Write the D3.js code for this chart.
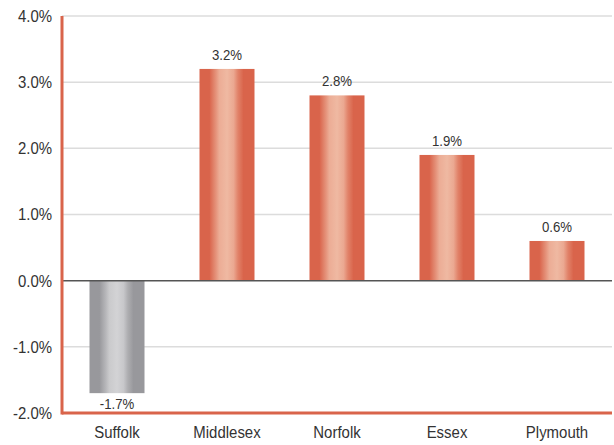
<!DOCTYPE html>
<html><head><meta charset="utf-8">
<script src="https://cdn.jsdelivr.net/npm/d3@7"></script>
<style>
body{margin:0;background:#fff;}
text{font-family:"Liberation Sans",Arial,sans-serif;fill:#333;}
</style></head><body>
<svg id="c" width="614" height="445"></svg>
<script>
const categories = ["Suffolk","Middlesex","Norfolk","Essex","Plymouth"];
const values = [-1.7, 3.2, 2.8, 1.9, 0.6];
const yTicks = [-2,-1,0,1,2,3,4];

const SX = 0.88;
const svg = d3.select("#c");
const x = d3.scaleBand().domain(categories).range([62,612]).paddingInner(0.5).paddingOuter(0.25);
const y = d3.scaleLinear().domain([-2,4]).range([413,16]);

const defs = svg.append("defs");
function grad(id, edge, mid){
  const g = defs.append("linearGradient").attr("id",id).attr("x1","0").attr("x2","1").attr("y1","0").attr("y2","0");
  const m = t=>d3.interpolateRgb(edge,mid)(t);
  const stops = [[0,edge],[0.18,edge],[0.3,m(0.55)],[0.36,m(0.85)],[0.5,mid],[0.62,m(0.8)],[0.7,m(0.35)],[0.8,edge],[1,edge]];
  stops.forEach(s=>g.append("stop").attr("offset",s[0]).attr("stop-color",s[1]));
}
grad("gRed","#d9644b","#efb9a2");
grad("gGray","#98989c","#d3d3d5");

// gridlines
svg.append("g").selectAll("line").data(yTicks.filter(t=>t!==0&&t!==-2)).join("line")
  .attr("x1",62).attr("x2",612).attr("y1",d=>y(d)).attr("y2",d=>y(d))
  .attr("stroke","#dcdcdc").attr("stroke-width",1.5);

// y axis labels
const yAxis = d3.axisLeft(y).tickValues(yTicks).tickFormat(d=>d.toFixed(1)+"%").tickSize(0).tickPadding(10);
const ya = svg.append("g").attr("transform","translate(62,0)").call(yAxis);
ya.select(".domain").remove();
ya.selectAll("text").attr("font-size",17).attr("font-family",null).attr("fill","#333")
  .attr("x",-10/SX).attr("transform",`scale(${SX},1)`);
ya.attr("font-family",null);

// bars
svg.append("g").selectAll("rect").data(values).join("rect")
  .attr("x",(d,i)=>x(categories[i]))
  .attr("width",x.bandwidth())
  .attr("y",d=>y(Math.max(0,d)))
  .attr("height",d=>Math.abs(y(d)-y(0)))
  .attr("fill",d=>d<0?"url(#gGray)":"url(#gRed)");

// value labels
svg.append("g").selectAll("text").data(values).join("text")
  .attr("transform",(d,i)=>`translate(${x(categories[i])+x.bandwidth()/2},${d>=0?y(d)-9:y(d)+16}) scale(${SX},1)`)
  .attr("text-anchor","middle").attr("font-size",15)
  .text(d=>d.toFixed(1)+"%");

// zero line
svg.append("line").attr("x1",62).attr("x2",612).attr("y1",y(0)).attr("y2",y(0))
  .attr("stroke","#555").attr("stroke-width",1.5);

// x axis
const xAxis = d3.axisBottom(x).tickSize(0).tickPadding(13);
const xa = svg.append("g").attr("transform","translate(0,"+y(-2)+")").call(xAxis);
xa.select(".domain").remove();
xa.attr("font-family",null);
xa.selectAll("text").attr("font-size",17).attr("fill","#333").attr("transform",`scale(${SX},1)`)
  .each(function(){ /* keep centered under band */ });
xa.selectAll(".tick").each(function(){
  const t = d3.select(this);
  t.select("text").attr("transform",`scale(${SX},1)`);
});

// axis lines
svg.append("line").attr("x1",62).attr("x2",612).attr("y1",y(-2)).attr("y2",y(-2)).attr("stroke","#d9644b").attr("stroke-width",3);
svg.append("line").attr("x1",62).attr("x2",62).attr("y1",y(4)).attr("y2",y(-2)+1.5).attr("stroke","#d9644b").attr("stroke-width",3);
</script></body></html>
